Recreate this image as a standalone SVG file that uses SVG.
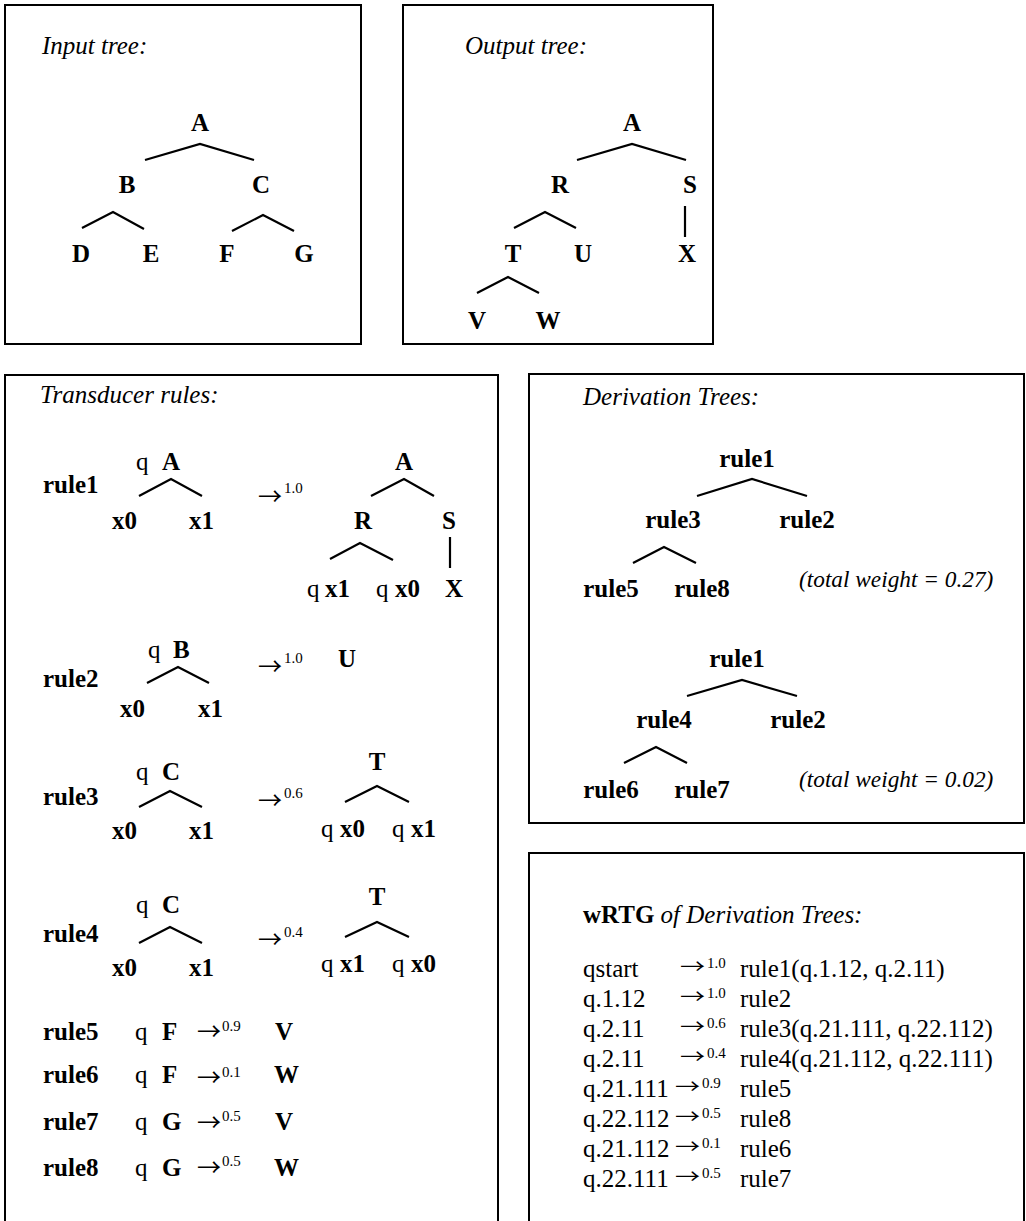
<svg xmlns="http://www.w3.org/2000/svg" width="1026" height="1221" viewBox="0 0 1026 1221">
<style>
text{font-family:"Liberation Serif","Times New Roman",serif;font-size:25px;fill:#000}
.b{font-weight:bold}
.i{font-style:italic}
.m{text-anchor:middle}
.w{font-size:23.3px}
.sup{font-size:15px}
.ar{font-family:"Noto Sans CJK JP",sans-serif;font-size:24px}
.ar2{font-family:"Noto Sans CJK JP",sans-serif;font-size:20px}
.box{fill:#fff;stroke:#000;stroke-width:2}
.br{fill:none;stroke:#000;stroke-width:2.2}
</style>
<rect width="1026" height="1221" fill="#fff"/>

<g id="input-tree">
<rect class="box" x="5" y="5" width="356" height="339"/>
<text class="i" x="42" y="54">Input tree:</text>
<text class="b m" x="200" y="131">A</text>
<text class="b m" x="127" y="193">B</text>
<text class="b m" x="261" y="193">C</text>
<text class="b m" x="81" y="262">D</text>
<text class="b m" x="151" y="262">E</text>
<text class="b m" x="227" y="262">F</text>
<text class="b m" x="304" y="262">G</text>
</g>

<g id="output-tree">
<rect class="box" x="403" y="5" width="310" height="339"/>
<text class="i" x="465" y="54">Output tree:</text>
<text class="b m" x="632" y="131">A</text>
<text class="b m" x="560" y="193">R</text>
<text class="b m" x="690" y="193">S</text>
<text class="b m" x="513" y="262">T</text>
<text class="b m" x="583" y="262">U</text>
<text class="b m" x="687" y="262">X</text>
<text class="b m" x="477" y="329">V</text>
<text class="b m" x="548" y="329">W</text>
</g>

<g id="transducer-rules">
<rect class="box" x="5" y="375" width="493" height="870"/>
<text class="i" x="40" y="403">Transducer rules:</text>
<!-- rule1 -->
<text class="b" x="43" y="493">rule1</text>
<text x="136" y="470">q</text><text class="b" x="162" y="470">A</text>
<text class="b" x="112" y="529">x0</text><text class="b" x="189" y="529">x1</text>
<text class="ar" x="258" y="505">→</text><text class="sup" x="284" y="493">1.0</text>
<text class="b m" x="404" y="470">A</text>
<text class="b m" x="363" y="529">R</text>
<text class="b m" x="449" y="529">S</text>
<text x="307" y="597">q</text><text class="b" x="325" y="597">x1</text>
<text x="376" y="597">q</text><text class="b" x="395" y="597">x0</text>
<text class="b" x="445" y="597">X</text>
<!-- rule2 -->
<text class="b" x="43" y="687">rule2</text>
<text x="148" y="658">q</text><text class="b" x="173" y="658">B</text>
<text class="b" x="120" y="717">x0</text><text class="b" x="198" y="717">x1</text>
<text class="ar" x="258" y="675">→</text><text class="sup" x="284" y="663">1.0</text>
<text class="b" x="338" y="667">U</text>
<!-- rule3 -->
<text class="b" x="43" y="805">rule3</text>
<text x="136" y="780">q</text><text class="b" x="162" y="780">C</text>
<text class="b" x="112" y="839">x0</text><text class="b" x="189" y="839">x1</text>
<text class="ar" x="258" y="809">→</text><text class="sup" x="284" y="798">0.6</text>
<text class="b m" x="377" y="770">T</text>
<text x="321" y="837">q</text><text class="b" x="340" y="837">x0</text>
<text x="392" y="837">q</text><text class="b" x="411" y="837">x1</text>
<!-- rule4 -->
<text class="b" x="43" y="942">rule4</text>
<text x="136" y="913">q</text><text class="b" x="162" y="913">C</text>
<text class="b" x="112" y="976">x0</text><text class="b" x="189" y="976">x1</text>
<text class="ar" x="258" y="948">→</text><text class="sup" x="284" y="937">0.4</text>
<text class="b m" x="377" y="905">T</text>
<text x="321" y="972">q</text><text class="b" x="340" y="972">x1</text>
<text x="392" y="972">q</text><text class="b" x="411" y="972">x0</text>
<!-- rule5-8 -->
<text class="b" x="43" y="1040">rule5</text>
<text x="135" y="1040">q</text><text class="b" x="162" y="1040">F</text>
<text class="ar" x="197" y="1040">→</text><text class="sup" x="222" y="1031">0.9</text>
<text class="b" x="275" y="1040">V</text>
<text class="b" x="43" y="1083">rule6</text>
<text x="135" y="1083">q</text><text class="b" x="162" y="1083">F</text>
<text class="ar" x="197" y="1086">→</text><text class="sup" x="222" y="1077">0.1</text>
<text class="b" x="274" y="1083">W</text>
<text class="b" x="43" y="1130">rule7</text>
<text x="135" y="1130">q</text><text class="b" x="162" y="1130">G</text>
<text class="ar" x="197" y="1131">→</text><text class="sup" x="222" y="1121">0.5</text>
<text class="b" x="275" y="1130">V</text>
<text class="b" x="43" y="1176">rule8</text>
<text x="135" y="1176">q</text><text class="b" x="162" y="1176">G</text>
<text class="ar" x="197" y="1176">→</text><text class="sup" x="222" y="1166">0.5</text>
<text class="b" x="274" y="1176">W</text>
</g>

<g id="derivation-trees">
<rect class="box" x="529" y="374" width="495" height="449"/>
<text class="i" x="583" y="405">Derivation Trees:</text>
<text class="b m" x="747" y="467">rule1</text>
<text class="b m" x="673" y="528">rule3</text>
<text class="b m" x="807" y="528">rule2</text>
<text class="b m" x="611" y="597">rule5</text>
<text class="b m" x="702" y="597">rule8</text>
<text class="i w" x="799" y="587">(total weight = 0.27)</text>
<text class="b m" x="737" y="667">rule1</text>
<text class="b m" x="664" y="728">rule4</text>
<text class="b m" x="798" y="728">rule2</text>
<text class="b m" x="611" y="798">rule6</text>
<text class="b m" x="702" y="798">rule7</text>
<text class="i w" x="799" y="787">(total weight = 0.02)</text>
</g>

<g id="wrtg">
<rect class="box" x="529" y="853" width="495" height="400"/>
<text x="583" y="923"><tspan class="b">wRTG</tspan><tspan class="i"> of Derivation Trees:</tspan></text>
<text x="583" y="977">qstart</text><text class="ar2" transform="translate(680,973.6) scale(1.25,1)">→</text><text class="sup" x="707" y="968">1.0</text><text x="740" y="977">rule1(q.1.12, q.2.11)</text>
<text x="583" y="1007">q.1.12</text><text class="ar2" transform="translate(680,1003.6) scale(1.25,1)">→</text><text class="sup" x="707" y="998">1.0</text><text x="740" y="1007">rule2</text>
<text x="583" y="1037">q.2.11</text><text class="ar2" transform="translate(680,1033.6) scale(1.25,1)">→</text><text class="sup" x="707" y="1028">0.6</text><text x="740" y="1037">rule3(q.21.111, q.22.112)</text>
<text x="583" y="1067">q.2.11</text><text class="ar2" transform="translate(680,1063.6) scale(1.25,1)">→</text><text class="sup" x="707" y="1058">0.4</text><text x="740" y="1067">rule4(q.21.112, q.22.111)</text>
<text x="583" y="1097">q.21.111</text><text class="ar2" transform="translate(675,1093.6) scale(1.25,1)">→</text><text class="sup" x="702" y="1088">0.9</text><text x="740" y="1097">rule5</text>
<text x="583" y="1127">q.22.112</text><text class="ar2" transform="translate(675,1123.6) scale(1.25,1)">→</text><text class="sup" x="702" y="1118">0.5</text><text x="740" y="1127">rule8</text>
<text x="583" y="1157">q.21.112</text><text class="ar2" transform="translate(675,1153.6) scale(1.25,1)">→</text><text class="sup" x="702" y="1148">0.1</text><text x="740" y="1157">rule6</text>
<text x="583" y="1187">q.22.111</text><text class="ar2" transform="translate(675,1183.6) scale(1.25,1)">→</text><text class="sup" x="702" y="1178">0.5</text><text x="740" y="1187">rule7</text>
</g>

<g id="connectors">
<polyline class="br" points="145,160 200,144 254,160"/>
<polyline class="br" points="82,228 113,212 144,229"/>
<polyline class="br" points="232,231 263,215 294,231"/>
<polyline class="br" points="577,160 632,144 686,160"/>
<polyline class="br" points="514,228 545,212 576,228"/>
<line class="br" x1="685" y1="206" x2="685" y2="237"/>
<polyline class="br" points="477,293 508,277 539,293"/>
<polyline class="br" points="139,496 171,479 202,496"/>
<polyline class="br" points="371,496 404,479 434,496"/>
<polyline class="br" points="330,559 360,543 393,560"/>
<line class="br" x1="450" y1="537" x2="450" y2="568"/>
<polyline class="br" points="147,683 178,667 209,683"/>
<polyline class="br" points="139,807 170,791 202,807"/>
<polyline class="br" points="345,802 377,786 409,802"/>
<polyline class="br" points="139,943 170,927 202,943"/>
<polyline class="br" points="345,937 377,922 409,937"/>
<polyline class="br" points="697,496 752,479 807,496"/>
<polyline class="br" points="633,563 664,547 696,563"/>
<polyline class="br" points="687,696 742,680 797,696"/>
<polyline class="br" points="624,763 656,747 687,763"/>
</g>
</svg>
